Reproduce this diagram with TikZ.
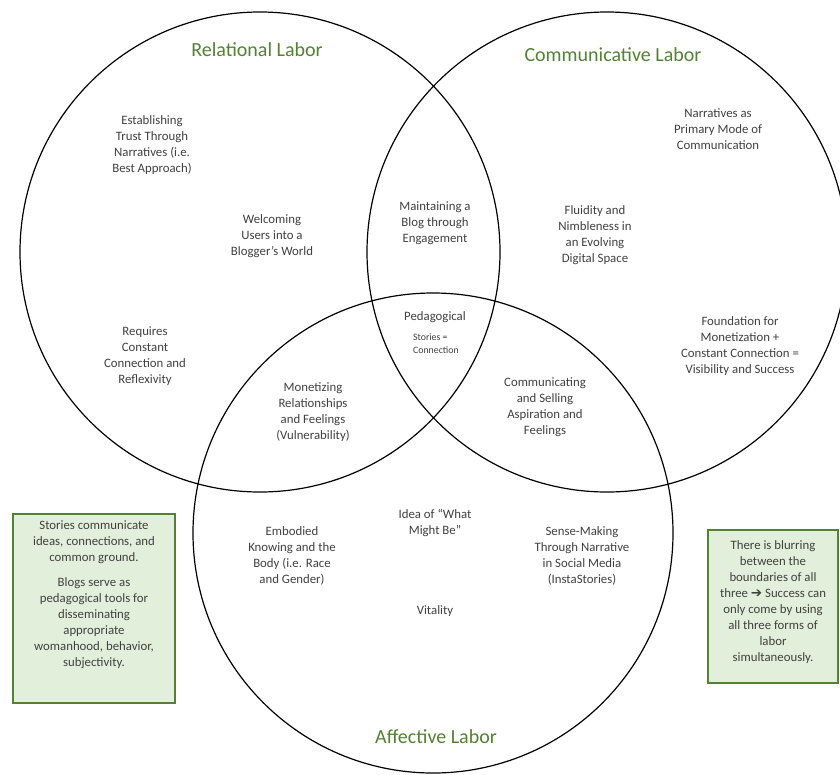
\documentclass[tikz,border=0pt]{standalone}
\usepackage{fontspec}
\setmainfont{Carlito}
\newfontfamily\symfont{DejaVu Sans}
\definecolor{titlegreen}{HTML}{538135}
\definecolor{boxfill}{HTML}{E2EFDA}
\definecolor{boxline}{HTML}{548235}
\definecolor{bodytext}{HTML}{404040}
\tikzset{
  venn/.style={draw=black, line width=1.2pt},
  title/.style={text=titlegreen, font=\fontsize{20}{24}\selectfont, inner sep=0pt},
  body/.style={text=bodytext, font=\fontsize{12.8}{16}\selectfont, align=center, inner sep=0pt},
  small/.style={text=bodytext, font=\fontsize{9.8}{13}\selectfont, align=left, inner sep=0pt},
  notebox/.style={draw=boxline, fill=boxfill, line width=1.3pt},
}
\begin{document}
\begin{tikzpicture}[x=1pt, y=-1pt]
\useasboundingbox (0,0) rectangle (840,774);
\fill[white] (0,0) rectangle (840,774);
% circles
\draw[venn] (260,252) circle[radius=240pt];
\draw[venn] (607,252) circle[radius=240pt];
\draw[venn] (433,533) circle[radius=240pt];
% titles
\node[title] (trel) at (257,50) {Relational Labor};
\node[title] (tcom) at (613,55) {Communicative Labor};
\node[title] (taff) at (436,737) {Affective Labor};
% relational only
\node[body] (r1) at (152,145) {Establishing\\Trust Through\\Narratives (i.e.\\Best Approach)};
\node[body] (r2) at (272,236) {Welcoming\\Users into a\\Blogger’s World};
\node[body] (r3) at (145,356) {Requires\\Constant\\Connection and\\Reflexivity};
% communicative only
\node[body] (c1) at (718,129) {Narratives as\\Primary Mode of\\Communication};
\node[body] (c2) at (595,235) {Fluidity and\\Nimbleness in\\an Evolving\\Digital Space};
\node[body] (c3) at (740,346) {Foundation for\\Monetization +\\Constant Connection =\\Visibility and Success};
% relational + communicative
\node[body] (rc) at (435,223) {Maintaining a\\Blog through\\Engagement};
% center
\node[body] (ped) at (435,317) {Pedagogical};
\node[small, anchor=west] (sto) at (413,343.5) {Stories =\\Connection};
% relational + affective
\node[body] (ra) at (313,412) {Monetizing\\Relationships\\and Feelings\\(Vulnerability)};
% communicative + affective
\node[body] (ca) at (545,407) {Communicating\\and Selling\\Aspiration and\\Feelings};
% affective only
\node[body] (a1) at (435,523) {Idea of “What\\Might Be”};
\node[body] (a2) at (292,556) {Embodied\\Knowing and the\\Body (i.e. Race\\and Gender)};
\node[body] (a3) at (582,556) {Sense-Making\\Through Narrative\\in Social Media\\(InstaStories)};
\node[body] (a4) at (435,611) {Vitality};
% note boxes
\draw[notebox] (13,514) rectangle (175,703);
\node[body] (lb) at (94,595) {Stories communicate\\ideas, connections, and\\common ground.\\[9pt]Blogs serve as\\pedagogical tools for\\disseminating\\appropriate\\womanhood, behavior,\\subjectivity.};
\draw[notebox] (708,530) rectangle (838,683);
\node[body] (rb) at (773,602) {There is blurring\\between the\\boundaries of all\\three {\symfont\fontsize{13.5}{16}\selectfont ➔} Success can\\only come by using\\all three forms of\\labor\\simultaneously.};
\end{tikzpicture}
\end{document}
